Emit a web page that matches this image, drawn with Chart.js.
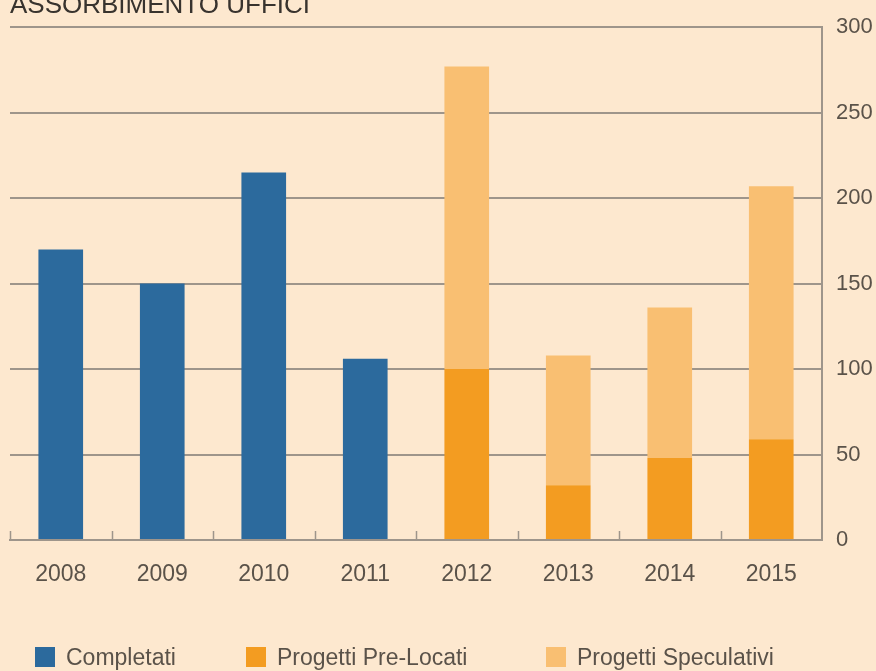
<!DOCTYPE html>
<html>
<head>
<meta charset="utf-8">
<script src="https://cdn.jsdelivr.net/npm/chart.js@4/dist/chart.umd.min.js"></script>
<style>
  html, body { margin: 0; padding: 0; background: #fde8cf; }
  #wrap { position: relative; width: 876px; height: 671px; overflow: hidden; background: #fde8cf; font-family: "Liberation Sans", Arial, sans-serif; }
  #title { position: absolute; left: 10px; top: -9px; font-size: 26px; line-height: 26px; color: #38332e; }
  #legend { position: absolute; left: 0; top: 645px; width: 876px; height: 26px; }
  .lg { position: absolute; top: 0; height: 24px; line-height: 24px; font-size: 23px; color: #5a5249; white-space: nowrap; }
  .lg i { position: absolute; left: 0; top: 2px; width: 20px; height: 20px; }
  .lg span { position: absolute; left: 31px; top: 0; }
</style>
</head>
<body>
<div id="wrap">
  <canvas id="chart" width="876" height="671"></canvas>
  <div id="title">ASSORBIMENTO UFFICI</div>
  <div id="legend"></div>
</div>
<script>
"use strict";
// --- dati ---------------------------------------------------------------------
const ANNI = ["2008", "2009", "2010", "2011", "2012", "2013", "2014", "2015"];
const COMPLETATI = [170, 150, 215, 106, null, null, null, null];
const PRE_LOCATI = [null, null, null, null, 100, 32, 48, 59];
const SPECULATIVI = [null, null, null, null, 177, 76, 88, 148];
const Y_TICKS = [0, 50, 100, 150, 200, 250, 300];

const BLU = "#2c6a9d", ARANCIO = "#f39c21", CHIARO = "#f9bf72";
const GRIGIO = "#9e958b", TESTO = "#5a5249";

// trattini sull'asse x ai confini delle categorie, rivolti verso l'alto
const tacche = {
  id: "tacche",
  afterDraw(chart) {
    const { ctx, chartArea: a, scales: { x } } = chart;
    const half = (x.getPixelForValue(1) - x.getPixelForValue(0)) / 2;
    ctx.save();
    ctx.strokeStyle = GRIGIO;
    ctx.lineWidth = 1.5;
    for (let i = 0; i < ANNI.length; i++) {
      const px = Math.round(x.getPixelForValue(i) - half) + 0.5;
      ctx.beginPath(); ctx.moveTo(px, a.bottom); ctx.lineTo(px, a.bottom - 9); ctx.stroke();
    }
    ctx.restore();
  }
};

const chart = new Chart(document.getElementById("chart"), {
  type: "bar",
  data: {
    labels: ANNI,
    datasets: [
      { label: "Completati", data: COMPLETATI, backgroundColor: BLU },
      { label: "Progetti Pre-Locati", data: PRE_LOCATI, backgroundColor: ARANCIO },
      { label: "Progetti Speculativi", data: SPECULATIVI, backgroundColor: CHIARO }
    ]
  },
  options: {
    responsive: false,
    animation: false,
    layout: { padding: { left: 10, top: 27, right: 0, bottom: 0 } },
    datasets: { bar: { categoryPercentage: 1, barPercentage: 0.44, borderWidth: 0 } },
    plugins: { legend: { display: false }, tooltip: { enabled: false } },
    scales: {
      x: {
        stacked: true,
        z: 1,
        grid: { display: false, drawTicks: false },
        border: { display: true, color: GRIGIO, width: 2 },
        ticks: { color: TESTO, padding: 21, font: { family: "Liberation Sans", size: 23 } },
        afterFit(s) { s.height = 671 - 540; }
      },
      y: {
        stacked: true,
        position: "right",
        min: 0, max: 300,
        z: 1,
        afterBuildTicks(s) { s.ticks = Y_TICKS.map((v) => ({ value: v })); },
        grid: { color: GRIGIO, lineWidth: 2, drawTicks: false },
        border: { display: true, color: GRIGIO, width: 2 },
        ticks: { color: TESTO, padding: 14, font: { family: "Liberation Sans", size: 22 } },
        afterFit(s) { s.width = 876 - 822; }
      }
    }
  },
  plugins: [tacche]
});

// legenda in HTML dai dataset
const POS_LEGENDA = [35, 246, 546];
const lg = document.getElementById("legend");
chart.data.datasets.forEach((d, i) => {
  const el = document.createElement("div");
  el.className = "lg";
  el.style.left = POS_LEGENDA[i] + "px";
  el.innerHTML = `<i style="background:${d.backgroundColor}"></i><span>${d.label}</span>`;
  lg.appendChild(el);
});
</script>
</body>
</html>
